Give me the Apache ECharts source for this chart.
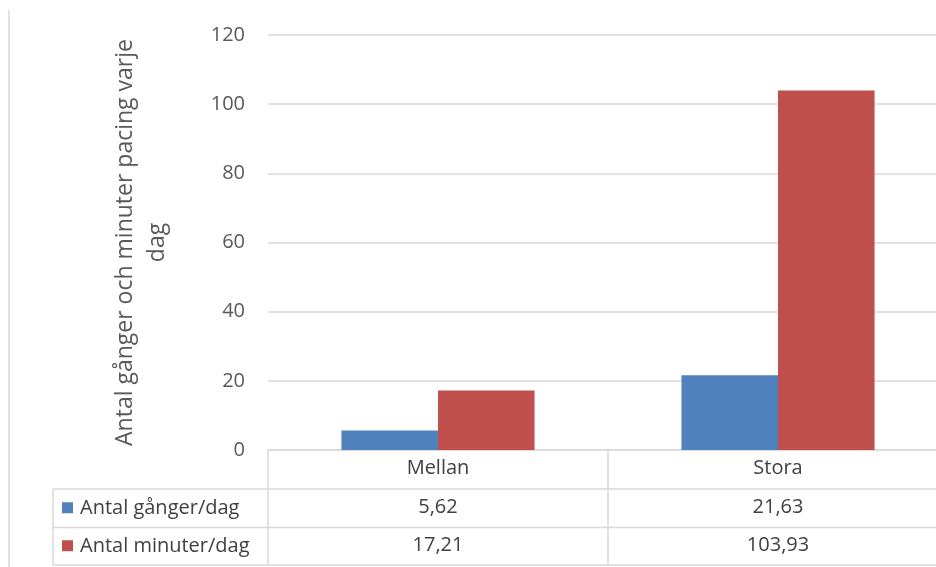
<!DOCTYPE html>
<html>
<head>
<meta charset="utf-8">
<script src="https://cdn.jsdelivr.net/npm/echarts@6/dist/echarts.min.js"></script>
<style>
  html, body { margin: 0; padding: 0; background: #fff; }
  #chart { width: 936px; height: 567px; }
</style>
</head>
<body>
<div id="chart"></div>
<script>
const categories = ['Mellan', 'Stora'];
const seriesNames = ['Antal gånger/dag', 'Antal minuter/dag'];
const timesPerDay = [5.62, 21.63];
const minutesPerDay = [17.21, 103.93];
const yAxisName = 'Antal gånger och minuter pacing varje\ndag';

const colors = ['#4F81BD', '#C0504D'];
const font = '"Open Sans", "Liberation Sans", sans-serif';
const lineColor = '#d9d9d9';
const fmt = v => String(v).replace('.', ',');

// table geometry
const axisY = 450;
const rowLines = [489, 527.5, 565];
const tableLeft = 53;

const chart = echarts.init(document.getElementById('chart'));

const valueAxis = (data, offset) => ({
  type: 'category',
  data: data.map(fmt),
  position: 'bottom',
  offset: offset,
  axisLine: { show: false },
  axisTick: { show: false },
  splitLine: { show: false },
  axisLabel: { margin: 8, fontSize: 20, color: '#404040', fontFamily: font }
});

const graphics = [
  { type: 'line', shape: { x1: 9, y1: 10, x2: 9, y2: 567 }, style: { stroke: lineColor, lineWidth: 1.5 } },
  { type: 'line', shape: { x1: tableLeft, y1: rowLines[0], x2: tableLeft, y2: rowLines[2] }, style: { stroke: lineColor, lineWidth: 1.5 } }
];
rowLines.forEach(y => {
  graphics.push({ type: 'line', shape: { x1: tableLeft, y1: y, x2: 936, y2: y }, style: { stroke: lineColor, lineWidth: 1.5 } });
});
seriesNames.forEach((name, i) => {
  const mid = (rowLines[i] + rowLines[i + 1]) / 2;
  graphics.push({ type: 'rect', shape: { x: 62, y: mid - 6, width: 11, height: 11 }, style: { fill: colors[i] } });
  graphics.push({
    type: 'text', x: 80, y: mid,
    style: { text: name, font: '20px ' + font, fill: '#404040', textVerticalAlign: 'middle' }
  });
});

chart.setOption({
  animation: false,
  textStyle: { fontFamily: font },
  grid: { left: 268, right: -12, top: 35, bottom: 567 - axisY, outerBoundsMode: 'none', containLabel: false },
  xAxis: [
    {
      type: 'category',
      data: categories,
      axisLine: { lineStyle: { color: lineColor, width: 1.5 } },
      axisTick: { show: true, length: 115, lineStyle: { color: lineColor, width: 1.5 } },
      axisLabel: { margin: 8, fontSize: 20, color: '#404040', fontFamily: font }
    },
    valueAxis(timesPerDay, rowLines[0] - axisY),
    valueAxis(minutesPerDay, rowLines[1] - axisY)
  ],
  yAxis: {
    type: 'value',
    min: 0,
    max: 120,
    interval: 20,
    name: yAxisName,
    nameLocation: 'middle',
    nameGap: 95,
    nameTextStyle: { fontSize: 23, color: '#595959', lineHeight: 32, fontFamily: font },
    axisLine: { show: false },
    axisTick: { show: false },
    axisLabel: { margin: 23, fontSize: 20, color: '#595959', fontFamily: font },
    splitLine: { lineStyle: { color: lineColor, width: 1.5 } }
  },
  series: [
    { name: seriesNames[0], type: 'bar', data: timesPerDay, barWidth: '28.4%', barGap: '0%', itemStyle: { color: colors[0] } },
    { name: seriesNames[1], type: 'bar', data: minutesPerDay, barWidth: '28.4%', barGap: '0%', itemStyle: { color: colors[1] } }
  ],
  graphic: graphics
});
</script>
</body>
</html>
